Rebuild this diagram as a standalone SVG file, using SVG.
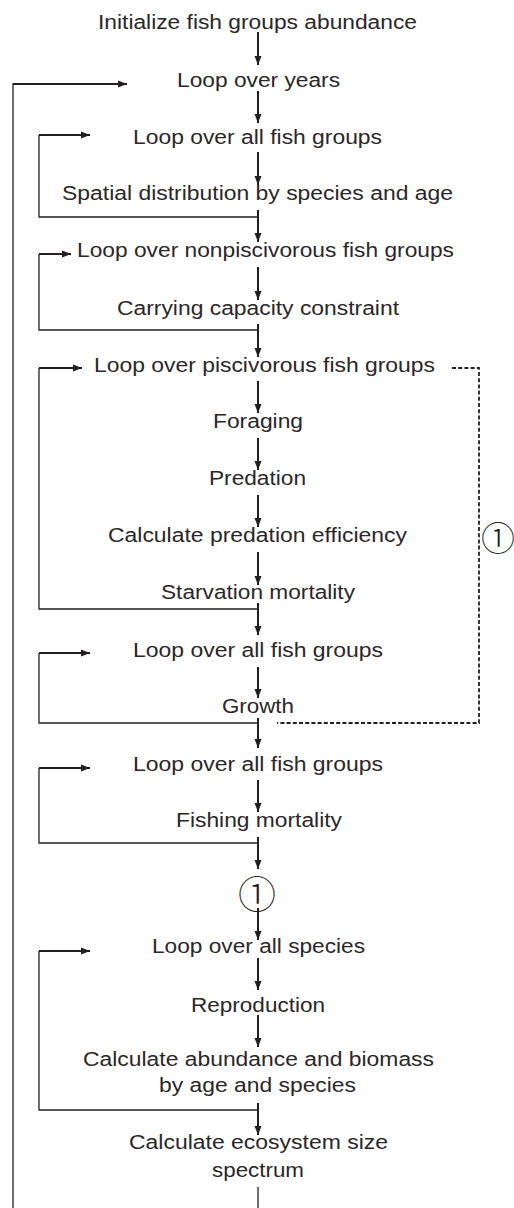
<svg xmlns="http://www.w3.org/2000/svg" width="514" height="1208" viewBox="0 0 514 1208">
<style>
  .t{font-family:"Liberation Sans",Arial,Helvetica,sans-serif;font-size:20px;fill:#2b2728}
  .c{font-family:"Noto Sans CJK SC","DejaVu Sans",sans-serif;font-size:38px;font-weight:300;fill:#231f20}
  .cs{font-size:34px}
  .m{stroke:#231f20;stroke-width:2;fill:none}
  .l{stroke:#231f20;stroke-width:1.3;fill:none}
  .d{stroke:#231f20;stroke-width:1.8;fill:none;stroke-dasharray:4 2.2}
</style>
<defs>
  <marker id="ah" markerUnits="userSpaceOnUse" markerWidth="9" markerHeight="8" viewBox="0 0 9 7" refX="9" refY="3.5" orient="auto">
    <path d="M0,0 L9,3.5 L0,7 Z" fill="#231f20"/>
  </marker>
</defs>
<rect width="514" height="1208" fill="#ffffff"/>
<g id="connectors">
  <line class="m" x1="258" y1="32" x2="258" y2="65" marker-end="url(#ah)"/>
  <line class="m" x1="258" y1="91" x2="258" y2="123" marker-end="url(#ah)"/>
  <line class="m" x1="258" y1="152" x2="258" y2="185" marker-end="url(#ah)"/>
  <line class="m" x1="258" y1="210" x2="258" y2="242" marker-end="url(#ah)"/>
  <line class="m" x1="258" y1="267" x2="258" y2="300" marker-end="url(#ah)"/>
  <line class="m" x1="258" y1="324" x2="258" y2="357" marker-end="url(#ah)"/>
  <line class="m" x1="258" y1="381" x2="258" y2="413" marker-end="url(#ah)"/>
  <line class="m" x1="258" y1="438" x2="258" y2="470" marker-end="url(#ah)"/>
  <line class="m" x1="258" y1="495" x2="258" y2="527" marker-end="url(#ah)"/>
  <line class="m" x1="258" y1="552" x2="258" y2="585" marker-end="url(#ah)"/>
  <line class="m" x1="258" y1="603" x2="258" y2="635" marker-end="url(#ah)"/>
  <line class="m" x1="258" y1="667" x2="258" y2="698" marker-end="url(#ah)"/>
  <line class="m" x1="258" y1="718" x2="258" y2="748" marker-end="url(#ah)"/>
  <line class="m" x1="258" y1="780" x2="258" y2="812" marker-end="url(#ah)"/>
  <line class="m" x1="258" y1="837" x2="258" y2="869" marker-end="url(#ah)"/>
  <line class="m" x1="258" y1="908" x2="258" y2="940" marker-end="url(#ah)"/>
  <line class="m" x1="258" y1="958" x2="258" y2="990" marker-end="url(#ah)"/>
  <line class="m" x1="258" y1="1015" x2="258" y2="1047" marker-end="url(#ah)"/>
  <line class="m" x1="258" y1="1103" x2="258" y2="1135" marker-end="url(#ah)"/>
  <line class="l" x1="258" y1="1187" x2="258" y2="1208"/>
  <polyline class="l" points="13,1208 13,84 20,84"/>
  <line class="m" x1="13" y1="84" x2="127" y2="84" marker-end="url(#ah)"/>
  <polyline class="l" points="258,217 39,217 39,135"/>
  <line class="m" x1="39" y1="135" x2="90" y2="135" marker-end="url(#ah)"/>
  <polyline class="l" points="258,330 39,330 39,254"/>
  <line class="m" x1="39" y1="254" x2="71" y2="254" marker-end="url(#ah)"/>
  <polyline class="l" points="258,609 39,609 39,368"/>
  <line class="m" x1="39" y1="368" x2="82" y2="368" marker-end="url(#ah)"/>
  <polyline class="l" points="258,723 39,723 39,653"/>
  <line class="m" x1="39" y1="653" x2="90" y2="653" marker-end="url(#ah)"/>
  <polyline class="l" points="258,843 39,843 39,768"/>
  <line class="m" x1="39" y1="768" x2="90" y2="768" marker-end="url(#ah)"/>
  <polyline class="l" points="258,1110 39,1110 39,951"/>
  <line class="m" x1="39" y1="951" x2="90" y2="951" marker-end="url(#ah)"/>
  <polyline class="d" points="452,368 479,368 479,723 277,723"/>
</g>
<g id="n1"><text class="t" x="98" y="29" textLength="319" lengthAdjust="spacingAndGlyphs">Initialize fish groups abundance</text></g>
<g id="n2"><text class="t" x="177" y="87" textLength="163" lengthAdjust="spacingAndGlyphs">Loop over years</text></g>
<g id="n3"><text class="t" x="133" y="143.5" textLength="249" lengthAdjust="spacingAndGlyphs">Loop over all fish groups</text></g>
<g id="n4"><text class="t" x="62" y="200" textLength="391" lengthAdjust="spacingAndGlyphs">Spatial distribution by species and age</text></g>
<g id="n5"><text class="t" x="77" y="257" textLength="377" lengthAdjust="spacingAndGlyphs">Loop over nonpiscivorous fish groups</text></g>
<g id="n6"><text class="t" x="117" y="315" textLength="282" lengthAdjust="spacingAndGlyphs">Carrying capacity constraint</text></g>
<g id="n7"><text class="t" x="94" y="372" textLength="341" lengthAdjust="spacingAndGlyphs">Loop over piscivorous fish groups</text></g>
<g id="n8"><text class="t" x="213" y="428" textLength="90" lengthAdjust="spacingAndGlyphs">Foraging</text></g>
<g id="n9"><text class="t" x="209" y="485" textLength="97" lengthAdjust="spacingAndGlyphs">Predation</text></g>
<g id="n10"><text class="t" x="108" y="542" textLength="299" lengthAdjust="spacingAndGlyphs">Calculate predation efficiency</text></g>
<g id="n11"><text class="t" x="161" y="599" textLength="194" lengthAdjust="spacingAndGlyphs">Starvation mortality</text></g>
<g id="n12"><text class="t" x="133" y="657" textLength="250" lengthAdjust="spacingAndGlyphs">Loop over all fish groups</text></g>
<g id="n13"><text class="t" x="222" y="713" textLength="72" lengthAdjust="spacingAndGlyphs">Growth</text></g>
<g id="n14"><text class="t" x="133" y="771" textLength="250" lengthAdjust="spacingAndGlyphs">Loop over all fish groups</text></g>
<g id="n15"><text class="t" x="176" y="827" textLength="166" lengthAdjust="spacingAndGlyphs">Fishing mortality</text></g>
<g id="n16"><text class="c" x="257" y="891" text-anchor="middle" dominant-baseline="central">①</text></g>
<g id="n17"><text class="t" x="152" y="953" textLength="213" lengthAdjust="spacingAndGlyphs">Loop over all species</text></g>
<g id="n18"><text class="t" x="191" y="1012" textLength="134" lengthAdjust="spacingAndGlyphs">Reproduction</text></g>
<g id="n19"><text class="t" x="83" y="1066" textLength="351" lengthAdjust="spacingAndGlyphs">Calculate abundance and biomass</text><text class="t" x="159" y="1092" textLength="197" lengthAdjust="spacingAndGlyphs">by age and species</text></g>
<g id="n20"><text class="t" x="129" y="1149" textLength="259" lengthAdjust="spacingAndGlyphs">Calculate ecosystem size</text><text class="t" x="212" y="1177" textLength="92" lengthAdjust="spacingAndGlyphs">spectrum</text></g>
<g id="n21"><text class="c cs" x="498" y="536" text-anchor="middle" dominant-baseline="central">①</text></g>
</svg>
